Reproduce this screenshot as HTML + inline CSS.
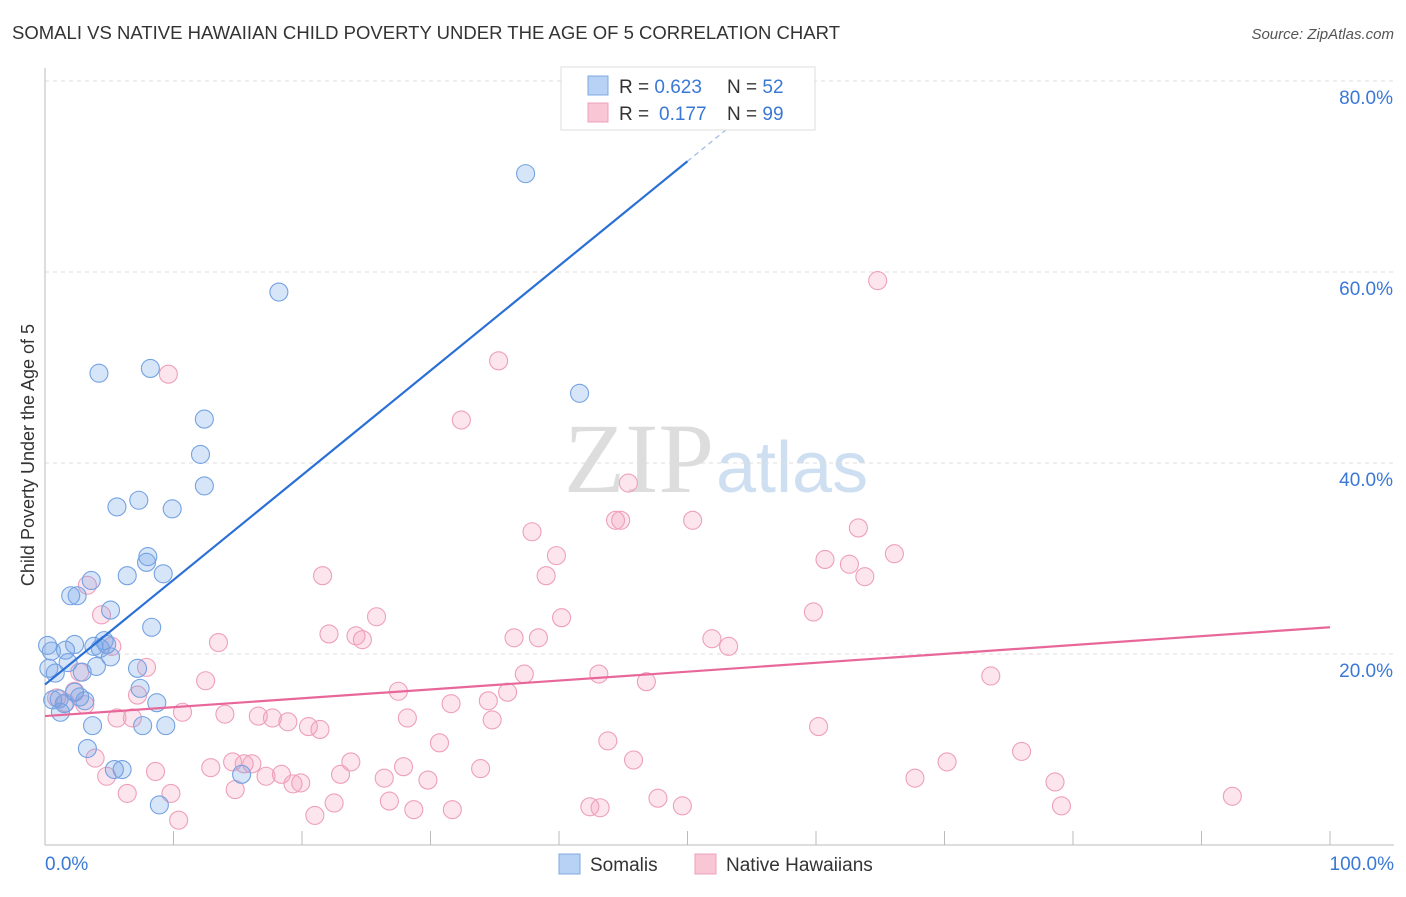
<!DOCTYPE html>
<html><head><meta charset="utf-8"><style>
body{margin:0;background:#fff;font-family:"Liberation Sans",sans-serif;}
svg text{font-family:"Liberation Sans",sans-serif;}
</style></head><body>
<svg id="chart" width="1406" height="892" xmlns="http://www.w3.org/2000/svg">
<text x="12" y="39" font-size="18.5" fill="#333" textLength="828">SOMALI VS NATIVE HAWAIIAN CHILD POVERTY UNDER THE AGE OF 5 CORRELATION CHART</text>
<text x="1394" y="39" font-size="15" fill="#555" text-anchor="end" font-style="italic">Source: ZipAtlas.com</text>
<text x="714" y="492" font-size="100" fill="#ddd" text-anchor="end" style="font-family:'Liberation Serif',serif">ZIP</text>
<text x="716" y="492" font-size="72" fill="#cfdff2">atlas</text>
<g id="grid"></g>
<g id="axes"></g>
<g id="pts"></g>
<g id="lines"></g>
<text transform="translate(34,455) rotate(-90)" font-size="18" fill="#333" text-anchor="middle">Child Poverty Under the Age of 5</text>
<g>
<rect x="561" y="67" width="254" height="63" fill="#fff" stroke="#ddd"/>
<rect x="588" y="76" width="20" height="19" fill="#b8d2f5" stroke="#7fa8e0"/>
<rect x="588" y="103" width="20" height="19" fill="#f9c6d6" stroke="#eca0bb"/>
<text x="619" y="93" font-size="19" fill="#333">R = <tspan fill="#3a78d6">0.623</tspan><tspan x="727">N = </tspan><tspan fill="#3a78d6">52</tspan></text>
<text x="619" y="120" font-size="19" fill="#333">R = <tspan fill="#3a78d6" x="659">0.177</tspan><tspan x="727">N = </tspan><tspan fill="#3a78d6">99</tspan></text>
</g>
<g>
<rect x="559" y="854" width="21" height="20" fill="#b8d2f5" stroke="#7fa8e0"/>
<text x="590" y="871" font-size="19" fill="#333">Somalis</text>
<rect x="695" y="854" width="21" height="20" fill="#f9c6d6" stroke="#eca0bb"/>
<text x="726" y="871" font-size="19" fill="#333">Native Hawaiians</text>
</g>
</svg>
<script>
const blueX=[37.4,18.2,4.2,8.2,41.6,12.4,12.1,12.4,5.6,7.3,9.9,8.0,7.9,6.4,9.2,2.0,2.5,3.6,5.1,8.3,0.2,0.5,1.6,2.3,3.8,4.6,5.1,4.3,0.3,0.8,1.8,4.0,7.2,7.4,2.9,0.6,1.1,1.5,2.3,2.7,3.1,1.2,8.7,3.7,7.6,9.4,3.3,5.4,6.0,15.3,8.9,4.8];
const blueY=[70.3,57.9,49.4,49.9,47.3,44.6,40.9,37.6,35.4,36.1,35.2,30.2,29.6,28.2,28.4,26.1,26.1,27.7,24.6,22.8,20.9,20.3,20.4,21.0,20.8,21.4,19.7,20.6,18.5,18.0,19.1,18.7,18.5,16.4,18.1,15.2,15.3,14.8,16.0,15.5,15.1,13.9,14.9,12.5,12.5,12.5,10.1,7.9,7.9,7.4,4.2,21.0];
const pinkX=[64.8,35.3,9.6,32.4,45.4,44.4,44.8,50.4,37.9,39.8,39.0,60.7,63.3,62.6,63.8,66.1,21.6,3.3,4.4,25.8,40.2,59.8,13.5,22.1,24.2,24.7,36.5,38.4,51.9,53.2,7.9,5.2,2.7,37.3,43.1,73.6,46.8,12.5,27.5,36.0,7.2,2.3,31.6,34.5,10.7,14.0,16.6,17.7,18.9,20.5,21.4,28.2,34.8,5.6,6.8,60.2,30.7,43.8,76.0,3.9,4.8,6.4,8.6,12.9,14.6,16.1,14.8,15.5,17.2,18.4,19.3,19.9,23.0,23.8,26.4,27.9,29.8,33.9,45.8,67.7,70.2,78.6,79.1,92.4,47.7,49.6,42.4,43.2,26.8,28.7,31.7,22.5,21.0,9.8,10.4,3.1,1.6,0.9];
const pinkY=[59.1,50.7,49.3,44.5,37.9,34.0,34.0,34.0,32.8,30.3,28.2,29.9,33.2,29.4,28.1,30.5,28.2,27.2,24.1,23.9,23.8,24.4,21.2,22.1,21.9,21.5,21.7,21.7,21.6,20.8,18.6,20.8,18.1,17.9,17.9,17.7,17.1,17.2,16.1,16.0,15.7,16.1,14.8,15.1,13.9,13.7,13.5,13.3,12.9,12.4,12.1,13.3,13.1,13.3,13.3,12.4,10.7,10.9,9.8,9.1,7.2,5.4,7.7,8.1,8.7,8.5,5.8,8.5,7.2,7.4,6.4,6.5,7.4,8.7,7.0,8.2,6.8,8.0,8.9,7.0,8.7,6.6,4.1,5.1,4.9,4.1,4.0,3.9,4.6,3.7,3.7,4.4,3.1,5.4,2.6,14.7,14.9,15.4];
const blueTrend=[16.8,1.096];
const pinkTrend=[13.5,0.093];
const yTicks=[20,40,60,80];
const xTickVals=[0,10,20,30,40,50,60,70,80,90,100];
const NS="http://www.w3.org/2000/svg";
const sx=v=>45+v*12.85, sy=v=>845-v*9.55;
function mk(t,a,p){const e=document.createElementNS(NS,t);for(const k in a)e.setAttribute(k,a[k]);p.appendChild(e);return e;}
const grid=document.getElementById('grid'),axes=document.getElementById('axes'),pts=document.getElementById('pts'),lines=document.getElementById('lines');
yTicks.forEach(v=>{
  const l=mk('line',{x1:45,x2:1394,y1:sy(v),y2:sy(v),stroke:'#ddd','stroke-dasharray':'4,4'},grid);
  
  
  const t=mk('text',{x:1393,y:sy(v)+23,'font-size':19,fill:'#3a78d6','text-anchor':'end'},grid);
  t.textContent=v.toFixed(1)+'%';
  
  
});
mk('line',{x1:45,x2:45,y1:68,y2:845,stroke:'#bbb'},axes);
mk('line',{x1:45,x2:1394,y1:845,y2:845,stroke:'#bbb'},axes);
xTickVals.forEach(v=>{
  const l=mk('line',{x1:sx(v),x2:sx(v),y1:831,y2:845,stroke:'#bbb'},axes);
  
  
});
[[0,'0.0%','start',45],[100,'100.0%','end',1394]].forEach(([v,s,a,x])=>{
  const t=mk('text',{x:x,y:870,'font-size':19,fill:'#3a78d6','text-anchor':a},axes);
  t.textContent=s;
  
  
});
pinkX.forEach((x,i)=>{
  const c=mk('circle',{cx:sx(x),cy:sy(pinkY[i]),r:9,fill:'rgba(244,160,190,0.28)',stroke:'#ee9fbc','stroke-width':1.1},pts);
  
  
});
blueX.forEach((x,i)=>{
  const c=mk('circle',{cx:sx(x),cy:sy(blueY[i]),r:9,fill:'rgba(110,160,230,0.28)',stroke:'#74a2e2','stroke-width':1.1},pts);
  
  
});
const bt=x=>blueTrend[0]+blueTrend[1]*x, pt=x=>pinkTrend[0]+pinkTrend[1]*x;
const b1=mk('line',{x1:sx(0),y1:sy(bt(0)),x2:sx(50),y2:sy(bt(50)),stroke:'#2a6fd6','stroke-width':2.2},lines);


const b2=mk('line',{x1:sx(50),y1:sy(bt(50)),x2:sx(54.5),y2:sy(bt(54.5)),stroke:'#9bb8e6','stroke-width':1.2,'stroke-dasharray':'5,4'},lines);


const p1=mk('line',{x1:sx(0),y1:sy(pt(0)),x2:sx(100),y2:sy(pt(100)),stroke:'#e8679a','stroke-width':2.2},lines);


</script>
</body></html>
